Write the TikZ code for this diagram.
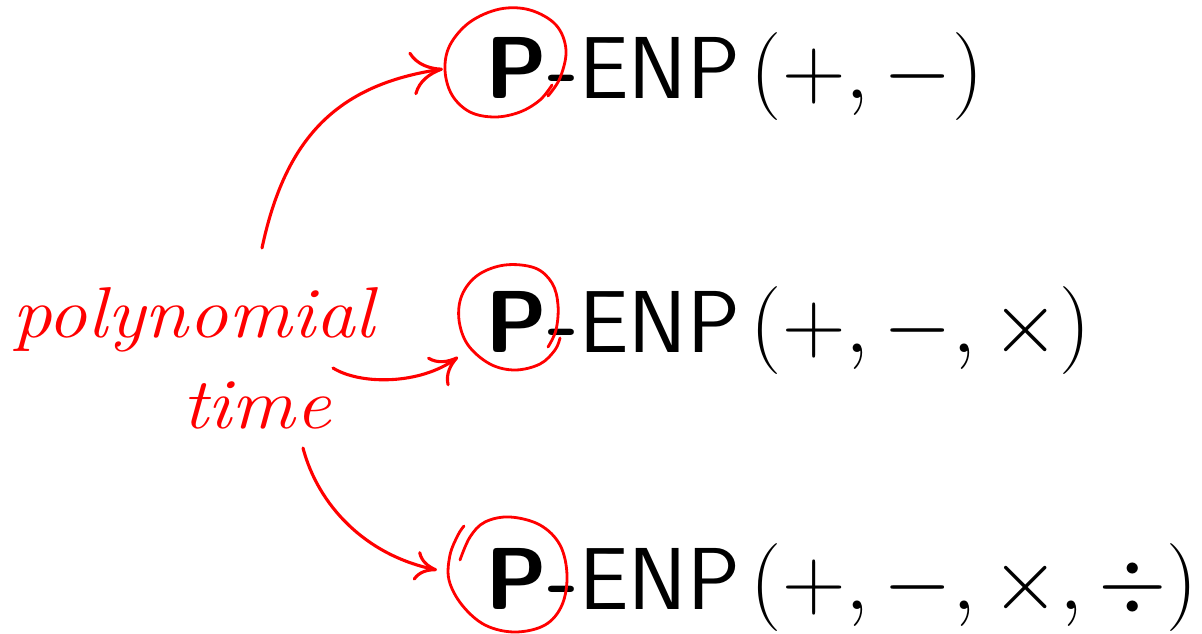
\RequirePackage{fix-cm}
\documentclass[tikz,border=0pt]{standalone}
\usepackage{fontspec}
\usetikzlibrary{arrows.meta}
\begin{document}
\begin{tikzpicture}[x=1pt,y=-1pt,
  redline/.style={draw=red,line width=2.8pt,line cap=round,line join=round},
  redarrow/.style={redline,line width=3.1pt},
  formula/.style={anchor=base west,inner sep=0pt,font=\fontsize{88}{100}\selectfont},
  script/.style={anchor=base west,inner sep=0pt,text=red,font=\fontsize{72}{80}\selectfont\itshape}]
\useasboundingbox (0,0) rectangle (1202,634);
% formulas
\node[formula] (f1) at (485,98) {{\sffamily\bfseries P-}{\sffamily ENP}\hspace{11pt}$(+,-)$};
\node[formula] (f2) at (485,352) {{\sffamily\bfseries P-}{\sffamily ENP}\hspace{11pt}$(+,-,\times)$};
\node[formula] (f3) at (485,609) {{\sffamily\bfseries P-}{\sffamily ENP}\hspace{11pt}$(+,-,\times,\div)$};
% script label
\node[script] (poly) at (12,337) {\scalebox{1.1}[1]{polynomial}};
\node[script] (time) at (182,428) {\scalebox{1.1}[1]{time}};
% hand drawn circles
\draw[redline] plot[smooth,tension=0.6] coordinates {(548,96) (560,78) (566,50) (556,25) (530,10) (500,9) (470,22) (450,45) (445,70) (452,95) (470,112) (495,117) (520,112) (540,100) (552,85)};
\draw[redline] plot[smooth,tension=0.6] coordinates {(548,347) (556,330) (558,305) (552,283) (535,268) (505,265) (478,275) (462,295) (459,320) (468,345) (490,364) (515,370) (540,364) (555,350) (560,338)};
\draw[redline] plot[smooth,tension=0.6] coordinates {(460,560) (470,537) (485,522) (510,517) (540,525) (560,545) (567,575) (562,605) (545,625) (515,632) (485,625) (462,605) (449,580) (450,555) (458,535) (464,526)};
% arrows
\coordinate (s1) at (262,248); \coordinate (e1) at (443,69);
\coordinate (s2) at (333,368); \coordinate (e2) at (458,357);
\coordinate (s3) at (303,448); \coordinate (e3) at (437,570);
\draw[redarrow,-{Computer Modern Rightarrow[length=32pt,width=44pt]}] (s1) .. controls (285,140) and (335,85) .. (e1);
\draw[redarrow,-{Computer Modern Rightarrow[length=26pt,width=36pt]}] (s2) .. controls (360,385) and (420,385) .. (e2);
\draw[redarrow,-{Computer Modern Rightarrow[length=22pt,width=30pt]}] (s3) .. controls (318,505) and (365,555) .. (e3);
\end{tikzpicture}
\end{document}
